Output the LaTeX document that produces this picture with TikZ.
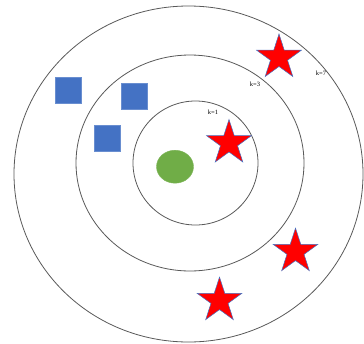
\documentclass[tikz,border=0pt]{standalone}
\usepackage{fontspec}
\setmainfont{Liberation Serif}
\usepackage{tikz}
\usetikzlibrary{shapes.geometric}

\definecolor{ptblue}{HTML}{4472C4}
\definecolor{ptgreen}{HTML}{70AD47}
\definecolor{ringgray}{HTML}{595959}

\begin{document}
\begin{tikzpicture}[
    x=1pt, y=-1pt,
    ring/.style = {draw=ringgray, line width=0.8pt},
    % Style cho lớp A (hình vuông xanh)
    class_a/.style = {draw=ptblue!80!white, line width=0.4pt, fill=ptblue, rectangle, minimum width=26pt, minimum height=26pt, inner sep=0pt},
    % Style cho lớp B (ngôi sao đỏ)
    class_b/.style = {draw=ptblue, line width=0.5pt, fill=red, star, star points=5, star point ratio=2.618, minimum size=47pt, inner sep=0pt},
    query/.style = {draw=ptgreen!90!white, line width=0.4pt, fill=ptgreen, ellipse, minimum width=37pt, minimum height=33pt, inner sep=0pt},
    k_label/.style = {font=\fontsize{6.5}{7}\selectfont, inner sep=0pt}
]
\useasboundingbox (0,0) rectangle (364,343);

% --- Các vòng lân cận k ---
\draw[ring] (188.5,174) ellipse [x radius=174.5, y radius=168];
\draw[ring] (190,163) ellipse [x radius=114, y radius=108];
\draw[ring] (195.5,163) ellipse [x radius=62.5, y radius=62];

\node[k_label] (k1) at (213,112) {k=1};
\node[k_label] (k3) at (255,84) {k=3};
\node[k_label] (k7) at (321,73) {k=7};

% --- Điểm cần phân loại ---
\node[query] (q) at (175,166.7) {};

% --- Lớp A ---
\node[class_a] (a1) at (68.5,90) {};
\node[class_a] (a2) at (133.7,96.3) {};
\node[class_a] (a3) at (106.7,138.3) {};

% --- Lớp B ---
\node[class_b] (b1) at (229,143) {};
\node[class_b] (b2) at (279,57.5) {};
\node[class_b] (b3) at (295.5,251.6) {};
\node[class_b] (b4) at (219.5,300.6) {};

\end{tikzpicture}
\end{document}
